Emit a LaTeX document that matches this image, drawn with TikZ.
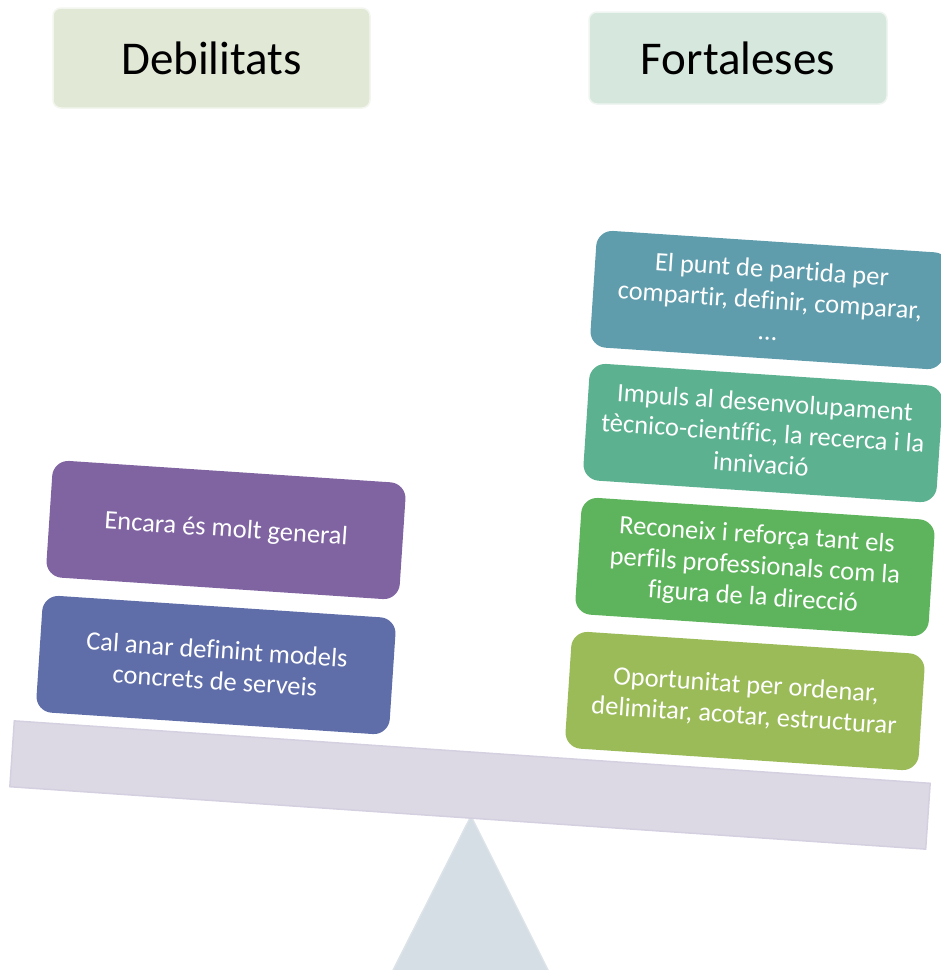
\documentclass[tikz,border=0pt]{standalone}
\usepackage{fontspec}
\setmainfont{Carlito}[Ligatures={NoCommon}]
\usepackage{tikz}

\definecolor{debilfill}{HTML}{E1E8D5}
\definecolor{fortfill}{HTML}{D6E7DD}
\definecolor{purplecard}{HTML}{8064A2}
\definecolor{bluecard}{HTML}{5F6DA8}
\definecolor{tealcard}{HTML}{5F9CAC}
\definecolor{seacard}{HTML}{5BB190}
\definecolor{greencard}{HTML}{5EB45C}
\definecolor{olivecard}{HTML}{9BBB59}
\definecolor{beamfill}{HTML}{DCD9E5}
\definecolor{beamline}{HTML}{D5D0E0}
\definecolor{trifill}{HTML}{D5DEE4}
\definecolor{triline}{HTML}{DCE4E9}

\begin{document}
\begin{tikzpicture}[x=1pt, y=-1pt,
  header/.style={rounded corners=8pt, draw=white!60!#1, line width=1.5pt, fill=#1,
    font=\fontsize{47}{50}\selectfont, inner sep=0pt},
  card/.style={rounded corners=16pt, fill=#1, rotate=-3.8, minimum width=354pt,
    minimum height=117pt, text=white, align=center, inner sep=0pt,
    font=\fontsize{26.5}{31}\selectfont}]
  \path[use as bounding box, clip] (0,0) rectangle (941,970);

  % titles
  \node[header=debilfill, minimum width=317pt, minimum height=100pt] (debil) at (211.5,58) {Debilitats};
  \node[header=fortfill, minimum width=298pt, minimum height=92pt] (fort) at (738,58) {Fortaleses};

  % balance
  \coordinate (pivot) at (471,816);
  \filldraw[fill=trifill, draw=triline, line width=1.5pt] (pivot) -- (383,990) -- (558,990) -- cycle;
  \node[fill=beamfill, draw=beamline, line width=1.5pt, rotate=-3.9, minimum width=918pt,
    minimum height=66pt] (beam) at (470,785) {};

  % weak points
  \node[card=purplecard] (encara) at (226,530) {Encara és molt general};
  \node[card=bluecard] (calanar) at (216,665) {Cal anar definint models\\concrets de serveis};

  % strong points
  \node[card=tealcard] (punt) at (770,300) {El punt de partida per\\compartir, definir, comparar,\\…};
  \node[card=seacard] (impuls) at (763,433) {Impuls al desenvolupament\\tècnico-científic, la recerca i la\\innivació};
  \node[card=greencard] (reconeix) at (755,567) {Reconeix i reforça tant els\\perfils professionals com la\\figura de la direcció};
  \node[card=olivecard] (oportunitat) at (745,701) {Oportunitat per ordenar,\\delimitar, acotar, estructurar};
\end{tikzpicture}
\end{document}
